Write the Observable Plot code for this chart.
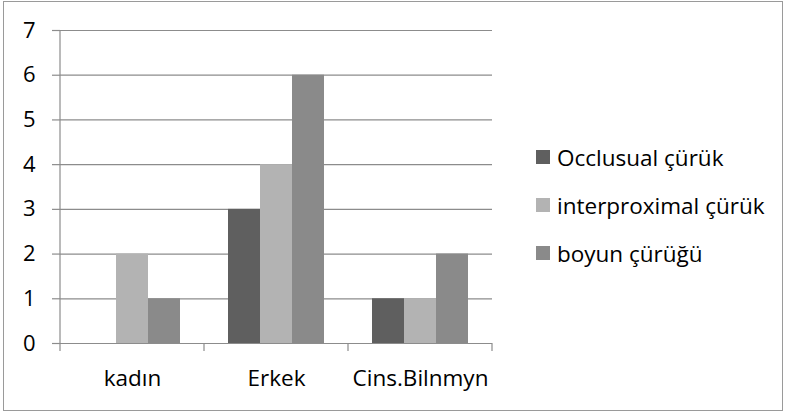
<!DOCTYPE html>
<html><head><meta charset="utf-8">
<script src="https://cdn.jsdelivr.net/npm/d3@7"></script>
<script src="https://cdn.jsdelivr.net/npm/@observablehq/plot@0.6"></script>
<style>
body{margin:0;background:#fff;}
#wrap{position:relative;width:786px;height:414px;overflow:hidden;background:#fff;}
#border{position:absolute;left:3px;top:1px;width:780px;height:410px;border:1.3px solid #9a9a9a;box-sizing:border-box;}
#chart{position:absolute;left:0;top:0;}
#legend{position:absolute;left:536px;top:133px;font-family:"Open Sans",sans-serif;font-size:22.5px;color:#000;}
.row{height:48px;display:flex;align-items:center;white-space:nowrap;}
.sw{width:14px;height:14px;margin-right:7px;flex:none;}
</style></head>
<body>
<div id="wrap"><div id="border"></div><div id="chart"></div><div id="legend"></div></div>
<script>
const categories = ["kadın", "Erkek", "Cins.Bilnmyn"];
const series = ["Occlusual çürük", "interproximal çürük", "boyun çürüğü"];
const occlusal = [0, 3, 1];
const interproximal = [2, 4, 1];
const boyun = [1, 6, 2];
const yTicks = [0, 1, 2, 3, 4, 5, 6, 7];
const colors = ["#5f5f5f", "#b3b3b3", "#8a8a8a"];

const values = [occlusal, interproximal, boyun];
const rows = [];
categories.forEach((c, i) => values.forEach((arr, j) => rows.push({category: c, series: series[j], value: arr[i]})));

const grid = "#8c8c8c";
const plot = Plot.plot({
  width: 786, height: 414,
  marginLeft: 59, marginRight: 293, marginTop: 30, marginBottom: 71,
  style: {fontFamily: "'Open Sans', sans-serif", fontSize: "22px", color: "#000", background: "transparent", overflow: "visible"},
  fx: {domain: categories, padding: 0, label: null},
  x: {domain: series, paddingInner: 0, paddingOuter: 0.75, axis: null},
  y: {domain: [0, 7], label: null},
  color: {domain: series, range: colors},
  marks: [
    Plot.ruleY(yTicks, {stroke: grid, strokeWidth: 1.2}),
    Plot.barY(rows, {fx: "category", x: "series", y: "value", fill: "series"}),
    Plot.axisY(yTicks, {tickSize: 8, tickPadding: 17, stroke: grid, strokeWidth: 1.2, fontSize: 22, fill: "#000", strokeOpacity: 1}),
    Plot.axisFx({anchor: "bottom", tickSize: 0, tickPadding: 27, fontSize: 22.5, fill: "#000"})
  ]
});
document.getElementById("chart").appendChild(plot);

// vertical axis line and category boundary ticks, from the plot's own scales
const fx = plot.scale("fx"), y = plot.scale("y");
const y0 = y.apply(0), y7 = y.apply(7);
const bounds = categories.map(c => fx.apply(c)).concat([fx.apply(categories[categories.length - 1]) + fx.bandwidth]);
const svg = d3.select(plot);
svg.append("line").attr("x1", bounds[0]).attr("x2", bounds[0]).attr("y1", y7).attr("y2", y0 + 8)
  .attr("stroke", grid).attr("stroke-width", 1.2);
bounds.slice(1).forEach(b => svg.append("line").attr("x1", b).attr("x2", b).attr("y1", y0).attr("y2", y0 + 8)
  .attr("stroke", grid).attr("stroke-width", 1.2));

const legend = d3.select("#legend");
series.forEach((s, i) => {
  const r = legend.append("div").attr("class", "row");
  r.append("div").attr("class", "sw").style("background", colors[i]);
  r.append("span").text(s);
});
</script>
</body></html>
